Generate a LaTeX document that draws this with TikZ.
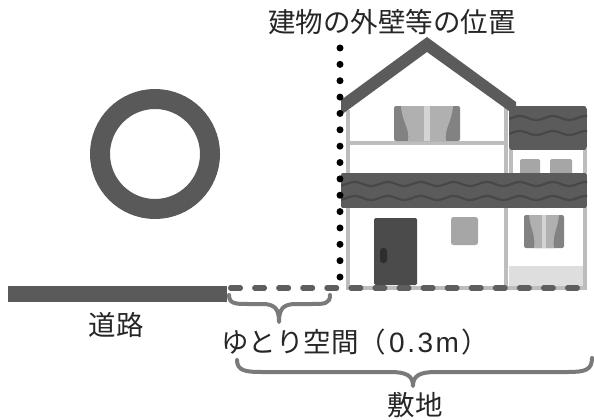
\documentclass[tikz,border=0pt]{standalone}
\usepackage{fontspec}
\newfontfamily\jp{Noto Sans CJK JP}
\newfontfamily\latn{Liberation Sans}
\definecolor{roadgray}{HTML}{5A5A5A}
\definecolor{ringgray}{HTML}{595959}
\definecolor{dashgray}{HTML}{5E5E5E}
\definecolor{bracegray}{HTML}{7A7A7A}
\definecolor{linegray}{HTML}{BDBDBD}
\definecolor{roofgray}{HTML}{5B5B5B}
\definecolor{wavegray}{HTML}{484848}
\definecolor{doorgray}{HTML}{4B4B4B}
\definecolor{knobgray}{HTML}{2E2E2E}
\definecolor{framegray}{HTML}{828282}
\definecolor{curtaingray}{HTML}{B0B0B0}
\definecolor{mulliongray}{HTML}{D4D4D4}
\definecolor{smallwin}{HTML}{A6A6A6}
\definecolor{basegray}{HTML}{DEDEDE}
\tikzset{
  label/.style={font=\jp\fontsize{27.5}{32}\selectfont, inner sep=0pt, text=black!85},
  wallline/.style={draw=linegray, line width=4.5pt},
  roof/.style={fill=roofgray},
  wave/.style={draw=wavegray, line width=2.2pt},
  bracestyle/.style={draw=bracegray, line width=4pt, line cap=round, line join=round},
  dotline/.style={line width=7pt, line cap=round, dash pattern=on 0pt off 16.36pt},
  lotline/.style={draw=dashgray, line width=5.5pt, line cap=round, dash pattern=on 9.5pt off 14.57pt},
}
\begin{document}
\begin{tikzpicture}[x=1pt,y=-1pt]
\useasboundingbox (0,0) rectangle (594,420);
\fill[white] (0,0) rectangle (594,420);

% circle mark
\draw[ringgray, line width=20pt] (155,154) circle[radius=55];

% road
\fill[roadgray] (8,286) rectangle (227,302);

% ---- house ----
% wall outlines
\draw[wallline] (348,110) -- (348,288);
\draw[wallline] (506,106) -- (506,173);
\draw[wallline] (346,143) -- (508,143);
\draw[wallline] (511,148) -- (511,173);
\draw[wallline] (585,148) -- (585,288);
\draw[wallline] (506,208) -- (506,288);
\draw[wallline] (346,288) -- (587,288);
\fill[basegray] (508.5,266) rectangle (582.5,285.5);

% upper window with curtains
\fill[framegray, rounded corners=2pt] (394,106) rectangle (460,141);
\fill[curtaingray] (401,106) .. controls (402,122) and (410,128) .. (408,141) -- (424,141) -- (424,106) -- cycle;
\fill[curtaingray] (453,106) .. controls (452,122) and (444,128) .. (446,141) -- (430,141) -- (430,106) -- cycle;
\fill[mulliongray] (424,106) rectangle (430,141);

% small windows of the right wing
\fill[smallwin, rounded corners=1.5pt] (520,159) rectangle (540,176);
\fill[smallwin, rounded corners=1.5pt] (550,159) rectangle (572,176);

% door
\fill[doorgray, rounded corners=1.5pt] (374,218) rectangle (417,285);
\fill[knobgray, rounded corners=3pt] (380,248) rectangle (387,263);

% small lower window
\fill[smallwin, rounded corners=2.5pt] (451,217) rectangle (478,245);

% lower right window with curtains
\fill[framegray, rounded corners=2pt] (524,215) rectangle (564,248);
\fill[curtaingray] (529,215) .. controls (530,228) and (536,235) .. (534,248) -- (542,248) -- (542,215) -- cycle;
\fill[curtaingray] (559,215) .. controls (558,228) and (552,235) .. (554,248) -- (546,248) -- (546,215) -- cycle;
\fill[mulliongray] (542,215) rectangle (546,248);

% gable roof
\fill[roof] (341,100) -- (427,37) -- (516,102) -- (516,116) -- (427,52) -- (341,115) -- cycle;

% side roof
\begin{scope}
  \clip[rounded corners=3pt] (509,106) rectangle (587,150);
  \fill[roof] (509,106) rectangle (587,150);
  \draw[wave] plot[domain=505:590, samples=60, smooth] (\x, {118+2*sin(\x/33*360)});
  \draw[wave] plot[domain=505:590, samples=60, smooth] (\x, {133+2*sin(\x/33*360)});
\end{scope}

% eaves roof
\begin{scope}
  \clip[rounded corners=2pt] (341,173) rectangle (587,208);
  \fill[roof] (341,173) rectangle (587,208);
  \draw[wave] plot[domain=338:590, samples=120, smooth] (\x, {184+2*sin(\x/33*360)});
  \draw[wave] plot[domain=338:590, samples=120, smooth] (\x, {198+2*sin(\x/33*360)});
\end{scope}

% lot line (dashed)
\coordinate (lotA) at (230.75,288);
\coordinate (lotB) at (580,288);
\draw[lotline] (lotA) -- (lotB);

% wall position (dotted)
\coordinate (wallTop) at (340,48);
\coordinate (wallBot) at (340,278);
\draw[dotline] (wallTop) -- (wallBot);

% braces
\coordinate (sbL) at (229,295);
\coordinate (sbTip) at (279,322);
\coordinate (sbR) at (330,295);
\draw[bracestyle] (sbL) .. controls (229,304) and (236,304) .. (248,304)
  -- (262,304) .. controls (275,304) and (279,309) .. (sbTip)
  .. controls (279,309) and (283,304) .. (296,304)
  -- (312,304) .. controls (324,304) and (330,304) .. (sbR);

\coordinate (bbL) at (237,360);
\coordinate (bbTip) at (413,386);
\coordinate (bbR) at (592,358);
\draw[bracestyle] (bbL) .. controls (237,371) and (246,372) .. (262,372)
  -- (390,372) .. controls (407,372) and (413,376) .. (bbTip)
  .. controls (413,376) and (419,372) .. (436,372)
  -- (568,372) .. controls (585,372) and (592,370) .. (bbR);

% labels
\node[label] (wallpos) at (392,22) {建物の外壁等の位置};
\node[label] (road) at (116,325) {道路};
\node[label, anchor=west] (space) at (221,342)
  {ゆとり空間（{\latn\fontsize{28}{32}\selectfont\kern3pt 0\kern2.5pt.\kern2.5pt3\kern2.5pt m\kern3pt}）};
\node[label] (site) at (415,405) {敷地};
\end{tikzpicture}
\end{document}
